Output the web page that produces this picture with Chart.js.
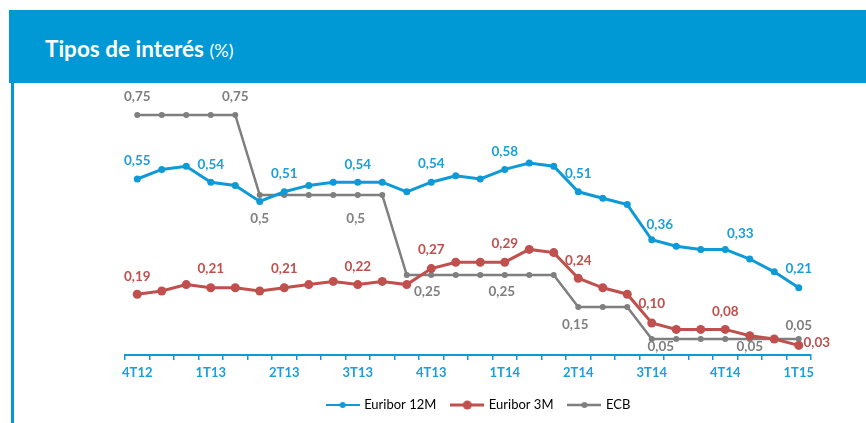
<!DOCTYPE html>
<html>
<head>
<meta charset="utf-8">
<script src="https://cdn.jsdelivr.net/npm/chart.js@4/dist/chart.umd.min.js"></script>
<style>
  body { margin: 0; width: 866px; height: 423px; overflow: hidden; background: #fff; position: relative; font-family: Lato, sans-serif; }
  #band { position: absolute; left: 9px; top: 10px; width: 857px; height: 73px; background: #0099d6; }
  #title { position: absolute; left: 45px; top: 36px; line-height: 26px; color: #fff; font-size: 22.5px; font-weight: bold; white-space: nowrap; }
  #title span { font-weight: normal; font-size: 18px; }
  #edge { position: absolute; left: 11px; top: 83px; width: 3px; height: 340px; background: #0099d6; }
  #wrap { position: absolute; left: 112px; top: 83px; width: 754px; height: 340px; }
</style>
</head>
<body>
<div id="band"></div>
<div id="title">Tipos de interés <span>(%)</span></div>
<div id="edge"></div>
<div id="wrap"><canvas id="chart-tipos"></canvas></div>
<script>
// datos mensuales dic-12 .. mar-15
const months = ['dic-12', 'ene-13', 'feb-13', 'mar-13', 'abr-13', 'may-13', 'jun-13', 'jul-13', 'ago-13', 'sep-13',
    'oct-13', 'nov-13', 'dic-13', 'ene-14', 'feb-14', 'mar-14', 'abr-14', 'may-14', 'jun-14', 'jul-14',
    'ago-14', 'sep-14', 'oct-14', 'nov-14', 'dic-14', 'ene-15', 'feb-15', 'mar-15'];
const quarterLabels = ['4T12', '1T13', '2T13', '3T13', '4T13', '1T14', '2T14', '3T14', '4T14', '1T15'];

const euribor12M = [0.55, 0.58, 0.59, 0.54, 0.53, 0.48, 0.51, 0.53, 0.54, 0.54, 0.54, 0.51, 0.54, 0.56,
    0.55, 0.58, 0.60, 0.59, 0.51, 0.49, 0.47, 0.36, 0.34, 0.33, 0.33, 0.30, 0.26, 0.21];
const euribor3M = [0.19, 0.20, 0.22, 0.21, 0.21, 0.20, 0.21, 0.22, 0.23, 0.22, 0.23, 0.22, 0.27, 0.29,
    0.29, 0.29, 0.33, 0.32, 0.24, 0.21, 0.19, 0.10, 0.08, 0.08, 0.08, 0.06, 0.05, 0.03];
const ecb = [0.75, 0.75, 0.75, 0.75, 0.75, 0.5, 0.5, 0.5, 0.5, 0.5, 0.5, 0.25, 0.25, 0.25,
    0.25, 0.25, 0.25, 0.25, 0.15, 0.15, 0.15, 0.05, 0.05, 0.05, 0.05, 0.05, 0.05, 0.05];

const BLUE = '#0f9ad7';
const RED = '#c0504d';
const GREY = '#7f7f7f';
const labelColors = ['#1a9fdb', RED, GREY];

// etiquetas de valor: [serie, punto, dx, dy]
const pointLabels = [
    [0, 0, 0, -18], [0, 3, 0, -18], [0, 6, 0, -18], [0, 9, 0, -18], [0, 12, 0, -19],
    [0, 15, 0, -18], [0, 18, 0, -18], [0, 21, 8, -15], [0, 24, 15, -16], [0, 27, 0, -19],
    [1, 0, 0, -18], [1, 3, 0, -19], [1, 6, 0, -19], [1, 9, 0, -18], [1, 12, 0, -19],
    [1, 15, 0, -19], [1, 18, 0, -18], [1, 21, 0, -19], [1, 24, 0, -18], [1, 27, 18, -3],
    [2, 0, 0, -18], [2, 4, 0, -18], [2, 5, 0, 24], [2, 9, -2, 24], [2, 12, -4, 17],
    [2, 15, -3, 17], [2, 18, -3, 18], [2, 21, 9, 8], [2, 25, 0, 8], [2, 27, 0, -13]
];

// icono de leyenda: linea con punto
function legendIcon(color, width, radius) {
    const c = document.createElement('canvas');
    c.width = 34; c.height = 12;
    const g = c.getContext('2d');
    g.strokeStyle = color; g.lineWidth = width;
    g.beginPath(); g.moveTo(0, 6); g.lineTo(34, 6); g.stroke();
    g.fillStyle = color;
    g.beginPath(); g.arc(17, 6, radius, 0, Math.PI * 2); g.fill();
    return c;
}
const legendIcons = [legendIcon(BLUE, 2, 3), legendIcon(RED, 3, 4.5), legendIcon(GREY, 2.5, 3)];

const valueLabels = {
    id: 'valueLabels',
    afterDatasetsDraw(chart) {
        const ctx = chart.ctx;
        ctx.save();
        ctx.font = 'bold 13.5px Lato';
        ctx.textAlign = 'center';
        ctx.textBaseline = 'middle';
        pointLabels.forEach(([ds, i, dx, dy]) => {
            const pt = chart.getDatasetMeta(ds).data[i];
            const v = chart.data.datasets[ds].data[i];
            const txt = ds === 2 ? String(v).replace('.', ',') : v.toFixed(2).replace('.', ',');
            ctx.fillStyle = labelColors[ds];
            ctx.fillText(txt, pt.x + dx, pt.y + dy);
        });
        ctx.restore();
    }
};

// la leyenda va algo a la derecha del centro del area
const legendShift = {
    id: 'legendShift',
    afterLayout(chart) {
        chart.legend.left += 11;
        chart.legend.right += 11;
    }
};

const chartTipos = document.getElementById('chart-tipos');

new Chart(chartTipos, {
    type: 'line',
    data: {
        labels: months,
        datasets: [{
            label: 'Euribor 12M',
            data: euribor12M,
            borderColor: BLUE,
            backgroundColor: BLUE,
            borderWidth: 3,
            pointRadius: 3.5,
            pointBorderWidth: 0
        }, {
            label: 'Euribor 3M',
            data: euribor3M,
            borderColor: RED,
            backgroundColor: RED,
            borderWidth: 3,
            pointRadius: 4.5,
            pointBorderWidth: 0
        }, {
            label: 'ECB',
            data: ecb,
            borderColor: GREY,
            backgroundColor: GREY,
            borderWidth: 2.5,
            pointRadius: 3,
            pointBorderWidth: 0
        }]
    },
    options: {
        responsive: true,
        maintainAspectRatio: false,
        animation: false,
        events: [],
        layout: { padding: { left: 13, right: 55, top: 16, bottom: 1.5 } },
        scales: {
            x: {
                offset: true,
                grid: { offset: true, drawOnChartArea: false, drawTicks: true, tickLength: 5, color: BLUE, lineWidth: 1.5 },
                border: { color: BLUE, width: 2 },
                ticks: {
                    autoSkip: false,
                    maxRotation: 0,
                    padding: 5,
                    color: '#1a9fdb',
                    font: { family: 'Lato', weight: 'bold', size: 13 },
                    callback: (v, i) => (i % 3 === 0 ? quarterLabels[i / 3] : '')
                },
                afterFit: scale => { scale.height = 27.5; }
            },
            y: { display: false, min: 0, max: 0.8 }
        },
        plugins: {
            tooltip: { enabled: false },
            legend: {
                position: 'bottom',
                labels: {
                    usePointStyle: true,
                    pointStyleWidth: 30,
                    padding: 16,
                    color: '#262626',
                    font: { family: 'Lato', size: 13 },
                    generateLabels: chart => chart.data.datasets.map((ds, i) => ({
                        text: ds.label,
                        pointStyle: legendIcons[i],
                        fillStyle: ds.borderColor,
                        strokeStyle: ds.borderColor,
                        lineWidth: 0,
                        hidden: false,
                        datasetIndex: i
                    }))
                }
            }
        }
    },
    plugins: [valueLabels, legendShift]
});
</script>
</body>
</html>
